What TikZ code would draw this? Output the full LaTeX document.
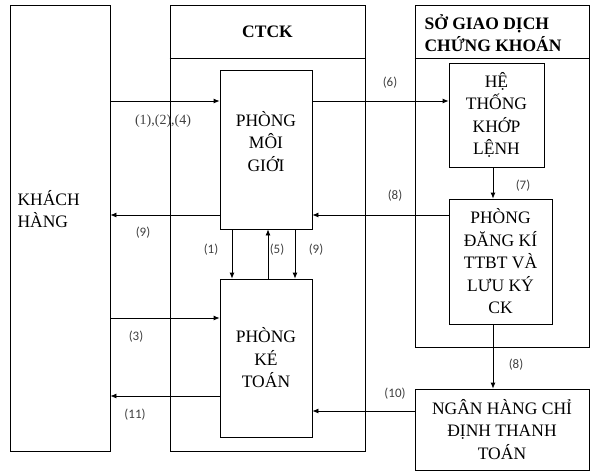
\documentclass[tikz,border=0pt]{standalone}
\usepackage{fontspec}
\setmainfont{Liberation Serif}
\newfontfamily\numfont{Carlito}
\usepackage{tikz}
\usetikzlibrary{positioning,calc,arrows.meta}

\begin{document}
\begin{tikzpicture}[x=1pt,y=-1pt,
		box/.style={draw=black,line width=0.8pt,inner sep=0pt,align=center,font=\fontsize{17.5}{22.5}\selectfont},
		arr/.style={-{Latex[length=6pt,width=5pt]},line width=0.8pt},
		num/.style={font=\numfont\fontsize{13}{15}\selectfont,text=black!75}]
		\useasboundingbox (0,0) rectangle (596,475);
		
		% outer columns
		\node[box,minimum width=100pt,minimum height=446pt] (kh) at (60,228) {};
		\node[box,minimum width=195pt,minimum height=446pt] (ctck) at (267.5,228) {};
		\node[box,minimum width=174pt,minimum height=342pt] (sgd) at (502,176) {};
		\draw[line width=0.8pt] ($(ctck.north west)+(0,54)$)--($(ctck.north east)+(0,54)$);
		\draw[line width=0.8pt] ($(sgd.north west)+(0,54)$)--($(sgd.north east)+(0,54)$);
		\node[anchor=west,align=left,font=\fontsize{17.5}{22.5}\selectfont] (khT) at (14,209) {KHÁCH\\HÀNG};
		\node[font=\bfseries\fontsize{17.5}{22.5}\selectfont] (ctckT) at (267.5,32) {CTCK};
		\node[anchor=west,align=left,font=\bfseries\fontsize{17.5}{22.5}\selectfont] (sgdT) at (421,33) {SỞ GIAO DỊCH\\CHỨNG KHOÁN};
		
		% inner boxes
		\node[box,minimum width=92pt,minimum height=159pt,text depth=17pt] (pmg) at (266,149.5) {PHÒNG\\MÔI\\GIỚI};
		\node[box,minimum width=92pt,minimum height=158pt] (pkt) at (266,358) {PHÒNG\\KÉ\\TOÁN};
		\node[box,minimum width=95pt,minimum height=104pt] (htkl) at (496.5,115) {HỆ\\THỐNG\\KHỚP\\LỆNH};
		\node[box,minimum width=103pt,minimum height=125pt] (pdk) at (500.5,261.5) {PHÒNG\\ĐĂNG KÍ\\TTBT VÀ\\LƯU KÝ\\CK};
		\node[box,minimum width=174pt,minimum height=81pt] (nh) at (502,429.5) {NGÂN HÀNG CHỈ\\ĐỊNH THANH\\TOÁN};
		
		\coordinate (r1) at (0,101);
		\coordinate (r2) at (0,215);
		\coordinate (r3) at (0,318);
		\coordinate (r4) at (0,396);
		\coordinate (r5) at (0,411);
		\coordinate (c1) at (232,0);
		\coordinate (c2) at (268,0);
		\coordinate (c3) at (295,0);
		\coordinate (cv) at (493,0);
		
		\draw[arr] (kh.east |- r1)--(pmg.west |- r1);
		\draw[arr] (pmg.west |- r2)--(kh.east |- r2);
		\draw[arr] (pmg.east |- r1)--(htkl.west |- r1);
		\draw[arr] (pdk.west |- r2)--(pmg.east |- r2);
		\draw[arr] (htkl.south -| cv)--(pdk.north -| cv);
		\draw[arr] (pmg.south -| c1)--(pkt.north -| c1);
		\draw[arr] (pkt.north -| c2)--(pmg.south -| c2);
		\draw[arr] (pmg.south -| c3)--(pkt.north -| c3);
		\draw[arr] (kh.east |- r3)--(pkt.west |- r3);
		\draw[arr] (pkt.west |- r4)--(kh.east |- r4);
		\draw[arr] (pdk.south -| cv)--(nh.north -| cv);
		\draw[arr] (nh.west |- r5)--(pkt.east |- r5);
		
		% step numbers
		\node[font=\fontsize{14}{16}\selectfont,text=black!75] (n124) at (163,121) {(1),(2),(4)};
		\node[num] (n9a) at (143,233) {(9)};
		\node[num] (n6) at (390,83) {(6)};
		\node[num] (n8a) at (395,196) {(8)};
		\node[num] (n7) at (523,186) {(7)};
		\node[num] (n1) at (211,250) {(1)};
		\node[num] (n5) at (277,250) {(5)};
		\node[num] (n9b) at (316,250) {(9)};
		\node[num] (n3) at (136,337) {(3)};
		\node[num] (n11) at (135,415) {(11)};
		\node[num] (n8b) at (516,365) {(8)};
		\node[num] (n10) at (395,394) {(10)};
	\end{tikzpicture}
\end{document}
